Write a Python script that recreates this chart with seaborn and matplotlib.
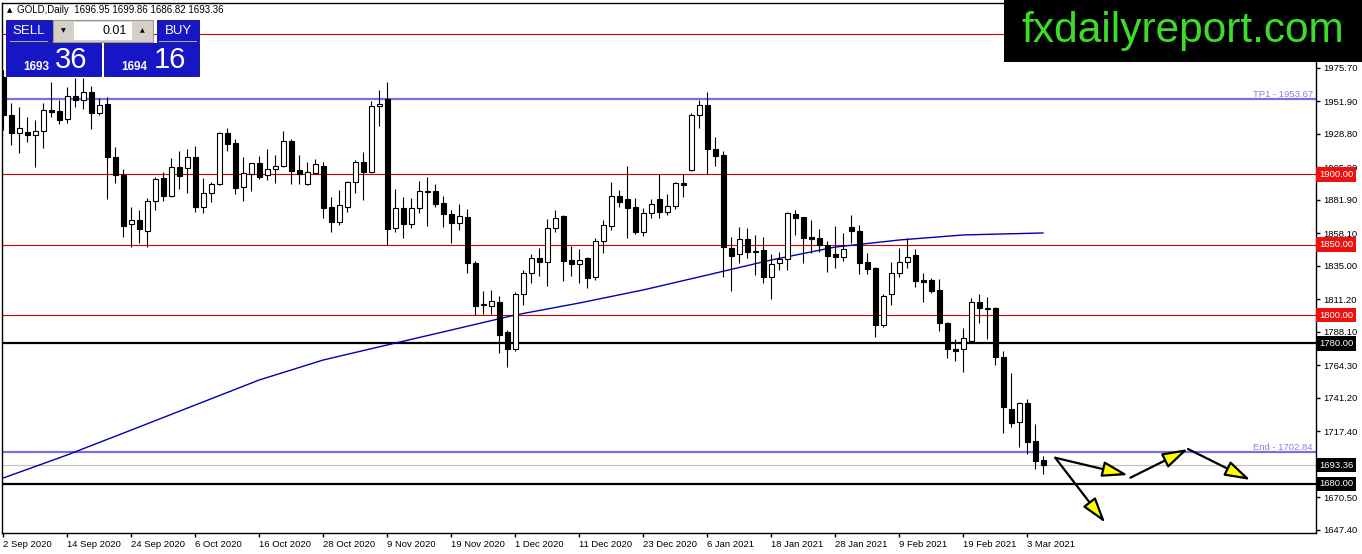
import matplotlib
matplotlib.use("Agg")
import matplotlib.pyplot as plt
import matplotlib.transforms as mtransforms
from matplotlib.patches import Rectangle
import pandas as pd
import seaborn as sns

W, H = 1362, 554

# daily GOLD candles, 2 Sep 2020 .. 5 Mar 2021
opens = [1969.6, 1942.3, 1929.7, 1930.4, 1927.8, 1931.2, 1945.9, 1945.1, 1939.7, 1955.8,
         1953.0, 1958.4, 1943.5, 1950.1, 1912.2, 1899.4, 1864.6, 1867.6, 1859.6, 1881.2,
         1897.7, 1885.0, 1905.3, 1904.4, 1912.7, 1877.1, 1886.6, 1893.0, 1929.2, 1922.1,
         1890.8, 1900.5, 1907.9, 1899.6, 1903.6, 1906.2, 1923.8, 1903.2, 1893.0, 1901.3,
         1906.2, 1876.6, 1866.4, 1876.6, 1894.9, 1908.6, 1902.0, 1948.4, 1953.6, 1862.2,
         1876.4, 1864.5, 1875.9, 1888.5, 1888.0, 1880.0, 1871.7, 1865.3, 1869.5, 1836.8,
         1806.9, 1806.7, 1809.5, 1788.0, 1775.9, 1814.8, 1829.7, 1840.4, 1838.0, 1861.7,
         1870.5, 1839.2, 1836.1, 1840.9, 1826.9, 1852.7, 1863.4, 1884.7, 1882.5, 1876.9,
         1859.3, 1872.4, 1882.5, 1873.1, 1877.6, 1893.7, 1903.2, 1942.3, 1949.4, 1918.1,
         1913.8, 1847.5, 1843.2, 1853.9, 1845.6, 1846.3, 1826.9, 1836.8, 1839.9, 1871.6,
         1869.5, 1855.3, 1855.1, 1849.8, 1843.2, 1841.6, 1863.0, 1859.9, 1838.1, 1833.8,
         1793.0, 1815.1, 1829.8, 1837.8, 1842.8, 1825.0, 1825.0, 1817.9, 1794.2, 1775.7,
         1775.7, 1781.9, 1809.1, 1804.9, 1804.9, 1770.5, 1733.1, 1724.3, 1737.8, 1710.8,
         1696.95]
highs = [1974.0, 1951.1, 1948.2, 1941.1, 1938.8, 1950.6, 1965.5, 1953.0, 1962.0, 1968.4,
         1968.4, 1962.9, 1954.2, 1954.9, 1919.3, 1904.1, 1876.7, 1874.8, 1883.1, 1898.5,
         1902.0, 1911.5, 1916.9, 1918.1, 1920.3, 1897.3, 1894.4, 1929.9, 1933.3, 1925.2,
         1912.4, 1908.5, 1913.3, 1918.1, 1913.8, 1930.9, 1925.2, 1913.8, 1908.6, 1911.0,
         1908.6, 1884.2, 1889.0, 1895.3, 1910.3, 1915.7, 1952.2, 1960.0, 1965.5, 1889.7,
         1884.2, 1883.0, 1895.6, 1898.0, 1893.2, 1884.7, 1874.7, 1879.0, 1875.2, 1838.5,
         1817.1, 1817.9, 1813.6, 1789.4, 1816.7, 1832.1, 1843.5, 1847.5, 1868.1, 1874.7,
         1871.0, 1849.4, 1846.8, 1841.6, 1854.6, 1867.6, 1894.9, 1889.0, 1906.2, 1883.5,
         1876.4, 1882.5, 1900.1, 1885.9, 1894.4, 1900.1, 1943.5, 1952.9, 1958.9, 1926.9,
         1916.7, 1855.8, 1862.9, 1862.2, 1856.9, 1855.8, 1843.2, 1844.6, 1873.0, 1874.7,
         1870.0, 1867.6, 1861.2, 1852.7, 1863.6, 1858.2, 1871.2, 1864.1, 1844.0, 1834.5,
         1815.1, 1838.1, 1847.5, 1854.6, 1846.8, 1830.2, 1826.2, 1825.5, 1795.4, 1782.8,
         1790.7, 1812.0, 1815.1, 1813.2, 1806.1, 1774.8, 1759.2, 1738.5, 1740.2, 1722.6,
         1699.86]
lows = [1931.6, 1921.0, 1915.5, 1923.3, 1905.6, 1919.1, 1940.6, 1935.9, 1936.4, 1947.8,
        1946.3, 1932.1, 1942.5, 1882.3, 1894.2, 1855.3, 1848.7, 1851.1, 1848.7, 1874.8,
        1881.2, 1884.2, 1889.7, 1886.6, 1873.6, 1872.4, 1880.6, 1892.5, 1916.7, 1885.9,
        1881.1, 1888.2, 1896.8, 1896.0, 1893.7, 1905.6, 1893.4, 1893.4, 1892.5, 1900.1,
        1868.8, 1859.3, 1864.1, 1873.1, 1886.6, 1881.8, 1901.0, 1934.7, 1849.8, 1859.3,
        1855.0, 1861.7, 1872.8, 1863.4, 1876.6, 1862.9, 1851.5, 1860.5, 1830.2, 1800.1,
        1800.8, 1800.8, 1773.3, 1763.4, 1774.5, 1807.2, 1823.1, 1827.8, 1820.7, 1859.3,
        1824.5, 1827.8, 1823.1, 1819.1, 1825.0, 1843.9, 1860.5, 1877.1, 1854.6, 1857.4,
        1856.5, 1868.8, 1868.8, 1871.2, 1875.2, 1884.2, 1902.5, 1933.3, 1900.1, 1906.2,
        1827.3, 1817.1, 1836.8, 1840.4, 1828.5, 1822.6, 1811.4, 1832.1, 1832.1, 1856.9,
        1836.8, 1843.9, 1845.1, 1830.4, 1833.2, 1838.8, 1851.6, 1829.3, 1829.3, 1784.3,
        1791.4, 1807.2, 1827.4, 1833.3, 1820.3, 1809.6, 1815.5, 1789.0, 1769.3, 1767.7,
        1759.9, 1781.2, 1794.7, 1782.8, 1764.6, 1716.5, 1720.7, 1706.5, 1701.3, 1690.4,
        1686.82]
closes = [1942.3, 1929.7, 1932.8, 1927.8, 1930.9, 1945.9, 1944.4, 1938.8, 1955.8, 1953.0,
          1958.4, 1943.5, 1949.4, 1912.2, 1899.4, 1863.4, 1867.4, 1861.0, 1881.2, 1896.8,
          1885.0, 1905.3, 1898.9, 1912.7, 1877.1, 1886.6, 1893.0, 1929.2, 1921.9, 1890.1,
          1900.8, 1907.9, 1898.4, 1903.6, 1906.0, 1923.8, 1902.4, 1900.3, 1901.5, 1907.2,
          1876.4, 1866.4, 1878.3, 1894.9, 1908.6, 1902.0, 1948.4, 1950.3, 1861.2, 1876.4,
          1864.5, 1875.9, 1888.5, 1887.5, 1878.8, 1871.7, 1865.3, 1870.5, 1836.8, 1806.7,
          1807.6, 1809.8, 1785.9, 1775.9, 1814.8, 1829.7, 1840.4, 1837.5, 1861.7, 1869.3,
          1838.7, 1836.1, 1839.2, 1826.2, 1852.7, 1864.1, 1884.7, 1880.7, 1875.9, 1858.8,
          1872.4, 1878.8, 1873.1, 1877.6, 1893.7, 1892.5, 1942.3, 1949.4, 1917.9, 1913.4,
          1848.2, 1842.3, 1853.9, 1844.6, 1844.6, 1827.3, 1836.1, 1839.9, 1872.4, 1869.3,
          1855.1, 1854.4, 1849.8, 1842.3, 1841.5, 1846.8, 1860.1, 1837.3, 1832.8, 1793.0,
          1813.6, 1829.8, 1837.8, 1841.6, 1824.5, 1823.8, 1817.4, 1794.2, 1775.7, 1774.8,
          1783.5, 1809.1, 1804.9, 1804.2, 1770.0, 1734.5, 1723.6, 1737.8, 1710.1, 1696.6,
          1693.36]

# moving average (blue line), sampled every 8 bars
ma_idx = [0, 8, 16, 24, 32, 40, 48, 56, 64, 72, 80, 88, 96, 104, 112, 120, 130]
ma_vals = [1684.2, 1700.6, 1718.3, 1736.1, 1753.9, 1768.1, 1778.8, 1789.4, 1800.1,
           1808.6, 1817.9, 1828.5, 1839.2, 1848.4, 1853.4, 1857.0, 1858.4]

date_idx = [0, 8, 16, 24, 32, 40, 48, 56, 64, 72, 80, 88, 96, 104, 112, 120, 128]
date_labels = ["2 Sep 2020", "14 Sep 2020", "24 Sep 2020", "6 Oct 2020", "16 Oct 2020",
               "28 Oct 2020", "9 Nov 2020", "19 Nov 2020", "1 Dec 2020", "11 Dec 2020",
               "23 Dec 2020", "6 Jan 2021", "18 Jan 2021", "28 Jan 2021", "9 Feb 2021",
               "19 Feb 2021", "3 Mar 2021"]

ytick_vals = [1975.70, 1951.90, 1928.80, 1905.00, 1881.90, 1858.10, 1835.00, 1811.20,
              1788.10, 1764.30, 1741.20, 1717.40, 1670.50, 1647.40]

red_levels = [2000.0, 1900.0, 1850.0, 1800.0]
black_levels = [1780.0, 1680.0]
tp1 = 1953.67
end_level = 1702.84
bid = 1693.36

# projected path arrows (bar index, price)
arrow_from = [(131.5, 1698.6), (131.5, 1698.6), (140.9, 1684.4), (148.1, 1704.8)]
arrow_to = [(137.75, 1652.4), (140.6, 1686.3), (148.1, 1704.8), (155.9, 1682.8)]

df = pd.DataFrame({"open": opens, "high": highs, "low": lows, "close": closes})
df["i"] = range(len(df))
df["up"] = df["close"] >= df["open"]
df["bottom"] = df[["open", "close"]].min(axis=1)
df["body"] = (df["close"] - df["open"]).abs().clip(lower=0.5)

sns.set_style("white")
plt.rcParams["font.family"] = ["Liberation Sans", "DejaVu Sans"]

fig = plt.figure(figsize=(W / 100, H / 100), dpi=100)
ax = fig.add_axes([2 / W, 21 / H, 1314 / W, 530 / H])

purple = "#7a6ee0"
for lv in red_levels:
    ax.axhline(lv, color="#d00000", lw=0.8, zorder=1)
for lv in black_levels:
    ax.axhline(lv, color="black", lw=1.6, zorder=1)
ax.axhline(tp1, color=purple, lw=1.6, zorder=1)
ax.axhline(end_level, color=purple, lw=1.6, zorder=1)
ax.axhline(bid, color="#c0c0c0", lw=0.8, zorder=1)

sns.lineplot(x=ma_idx, y=ma_vals, ax=ax, color="#0000b0", lw=1, zorder=2)

ax.vlines(df["i"], df["low"], df["high"], color="black", lw=0.8, zorder=3)
ax.bar(df["i"], df["body"], bottom=df["bottom"], width=0.6,
       color=["white" if u else "black" for u in df["up"]],
       edgecolor="black", linewidth=0.8, zorder=4)

for a, b in zip(arrow_from, arrow_to):
    ax.annotate("", xy=b, xytext=a,
                arrowprops=dict(arrowstyle="-|>,head_length=1.3,head_width=0.4",
                                mutation_scale=12, fc="yellow", ec="black", lw=1.6,
                                shrinkA=0, shrinkB=0), zorder=6)

ax.set_xlim(-0.16, 164.1)
ax.set_ylim(1645.1, 2021.9)

for s in ax.spines.values():
    s.set_color("black")
    s.set_linewidth(1)

ax.yaxis.tick_right()
ax.set_yticks(ytick_vals)
ax.set_yticklabels([f"{v:.2f}" for v in ytick_vals])
ax.set_xticks(date_idx)
ax.set_xticklabels(date_labels, ha="left")
ax.tick_params(axis="y", direction="out", length=3, width=1, pad=2,
               labelsize=6.8, colors="black", right=True, left=False)
ax.tick_params(axis="x", direction="out", length=3, width=1, pad=2,
               labelsize=6.8, colors="black", bottom=True)
ax.set_xlabel("")
ax.set_ylabel("")

lab_tr = mtransforms.blended_transform_factory(ax.transAxes, ax.transData)
for lv, fc in [(1900.0, "#ee1111"), (1850.0, "#ee1111"), (1800.0, "#ee1111"),
               (1780.0, "black"), (bid, "black"), (1680.0, "black")]:
    ax.text(1.0025, lv, f"{lv:.2f}", transform=lab_tr, ha="left", va="center",
            color="white", fontsize=6.8, clip_on=False, zorder=7,
            bbox=dict(boxstyle="square,pad=0.3", fc=fc, ec="none"))

ax.text(0.9975, tp1, f"TP1 - {tp1:.2f}", transform=lab_tr, ha="right", va="bottom",
        color="#8a7fe0", fontsize=6.8, zorder=5)
ax.text(0.9975, end_level, f"End - {end_level:.2f}", transform=lab_tr, ha="right",
        va="bottom", color="#8a7fe0", fontsize=6.8, zorder=5)


def px_rect(x, y, w, h, **kw):
    fig.add_artist(Rectangle((x / W, 1 - (y + h) / H), w / W, h / H,
                             transform=fig.transFigure, **kw))


def px_text(x, y, s, **kw):
    fig.text(x / W, 1 - y / H, s, **kw)


# header line
px_text(7, 10, "\u25b2", fontsize=5, va="center", ha="left", color="black",
        family=["DejaVu Sans"])
px_text(17, 10, "GOLD,Daily  1696.95 1699.86 1686.82 1693.36",
        fontsize=7, va="center", ha="left", color="black")

# one-click trading panel
blue = "#1616c6"
px_rect(6, 20, 46, 22, fc=blue, ec="#0a0a80", lw=0.6)
px_rect(157, 20, 42, 22, fc=blue, ec="#0a0a80", lw=0.6)
px_rect(53, 20, 100, 22, fc="#d4d0c8", ec="#9a9a9a", lw=0.8)
px_rect(74, 22, 58, 18, fc="white", ec="none")
px_rect(6, 43, 95, 33, fc=blue, ec="#0a0a80", lw=0.6)
px_rect(104, 43, 95, 33, fc=blue, ec="#0a0a80", lw=0.6)
px_rect(10, 41, 38, 1, fc="#9aa0ff", ec="none")
px_rect(159, 41, 38, 1, fc="#9aa0ff", ec="none")
px_text(29, 31, "SELL", fontsize=9.5, color="white", ha="center", va="center")
px_text(178, 31, "BUY", fontsize=9.5, color="white", ha="center", va="center")
px_text(127, 31, "0.01", fontsize=9, color="black", ha="right", va="center")
px_text(63, 31, "\u25bc", fontsize=4.5, color="black", ha="center", va="center",
        family=["DejaVu Sans"])
px_text(142, 31, "\u25b2", fontsize=4.5, color="black", ha="center", va="center",
        family=["DejaVu Sans"])
px_text(23, 70, "1693", fontsize=8.5, fontweight="bold", color="white", ha="left",
        va="baseline")
px_text(55, 68, "36", fontsize=21, color="white", ha="left", va="baseline")
px_text(121, 70, "1694", fontsize=8.5, fontweight="bold", color="white", ha="left",
        va="baseline")
px_text(154, 68, "16", fontsize=21, color="white", ha="left", va="baseline")

# site banner
px_rect(1004, 0, 358, 62, fc="black", ec="none")
px_text(1183, 31, "fxdailyreport.com", fontsize=30.5, color="#3cdc28",
        ha="center", va="center")

fig.savefig("out.png", dpi=100)
